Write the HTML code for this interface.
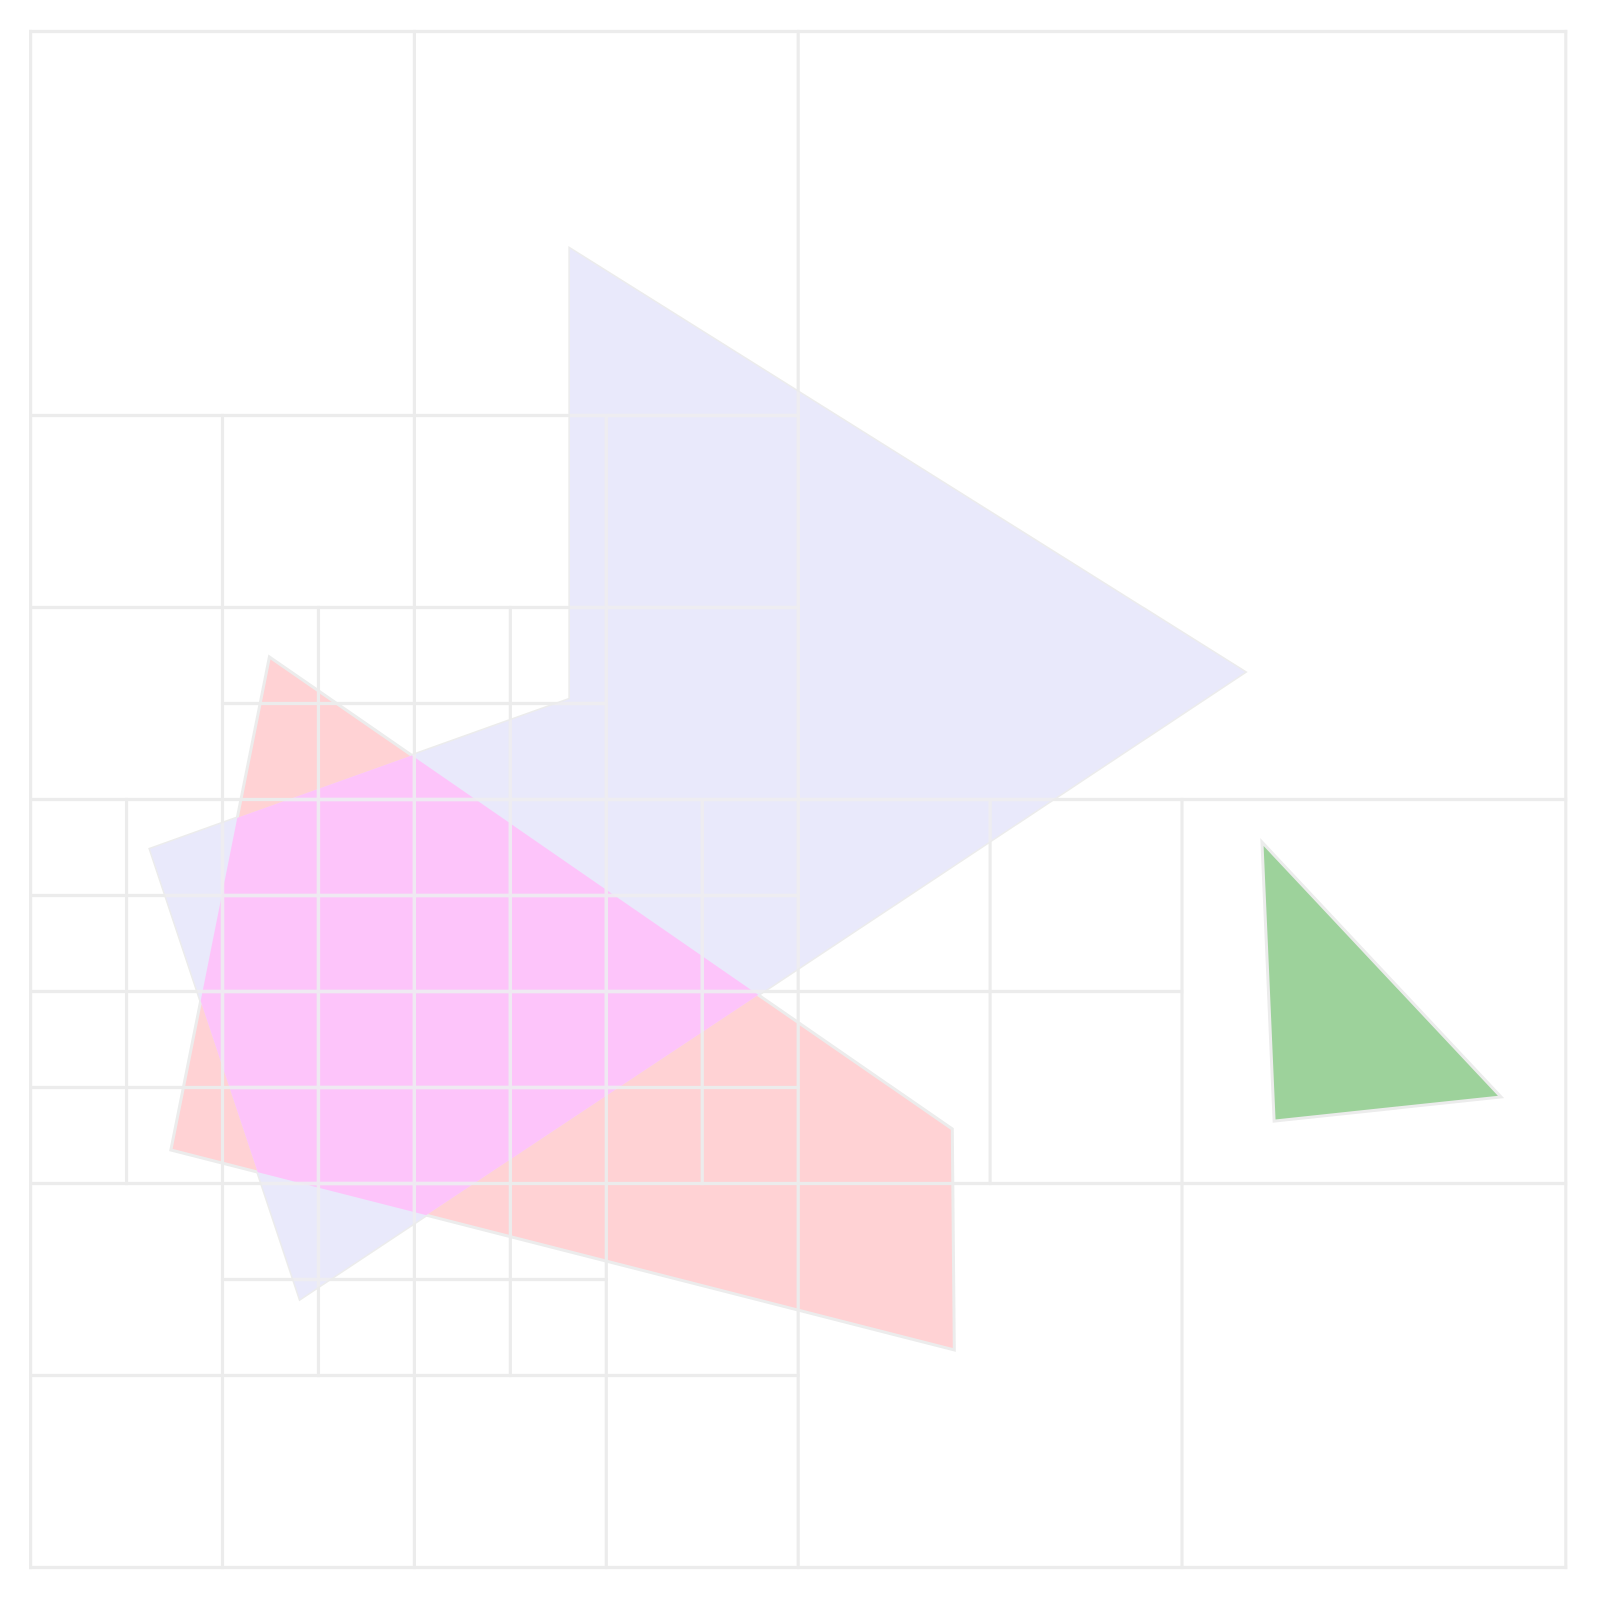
<!DOCTYPE html>
<html lang="en">
<head>
<meta charset="utf-8">
<title>Quadtree grid with overlapping polygons</title>
<style>
html,body{margin:0;padding:0;background:#fff;}
svg{display:block;}
</style>
</head>
<body>
<svg id="chart" xmlns="http://www.w3.org/2000/svg" width="1599" height="1599" viewBox="0 0 1599 1599">
<defs>
<clipPath id="pink-clip"><polygon id="pink-clip-shape"></polygon></clipPath>
<clipPath id="lilac-clip"><polygon id="lilac-clip-shape"></polygon></clipPath>
</defs>
<g id="shapes"></g>
<g id="grid" style="color:#ececec"></g>
<g id="grid-tints">
<g clip-path="url(#lilac-clip)" style="color:#eeedf1"><use href="#grid-lines"></use></g>
<g clip-path="url(#lilac-clip)"><g clip-path="url(#pink-clip)" style="color:#efe9f2"><use href="#grid-lines"></use></g></g>
</g>
</svg>
<script>
// Polygon vertices in grid units (0-16)
const pinkX = [2.489, 9.606, 9.627, 1.462];
const pinkY = [6.515, 11.432, 13.734, 11.651];
const lilacX = [5.62, 12.656, 2.807, 1.245, 5.62];
const lilacY = [2.262, 6.672, 13.203, 8.516, 6.953];
const greenX = [12.833, 15.325, 12.96];
const greenY = [8.443, 11.099, 11.35];

// Vertical grid lines: position, start, end in grid units
const vLineAt = [0, 1, 2, 3, 4, 5, 6, 7, 8, 10, 12, 16];
const vLineFrom = [0, 8, 4, 6, 0, 6, 4, 8, 0, 8, 8, 0];
const vLineTo = [16, 12, 16, 14, 16, 14, 16, 12, 16, 12, 16, 16];

// Horizontal grid lines: position, start, end in grid units
const hLineAt = [0, 4, 6, 7, 8, 9, 10, 11, 12, 13, 14, 16];
const hLineFrom = [0, 0, 0, 2, 0, 0, 0, 0, 0, 2, 0, 0];
const hLineTo = [16, 8, 8, 6, 16, 8, 12, 8, 16, 6, 8, 16];

const NS = 'http://www.w3.org/2000/svg';
const EDGE_COLOR = '#ececec';
function sx(v) { return 30.6 + v * 95.95; }
function sy(v) { return 31.5 + v * 96; }
function points(xs, ys) {
  return xs.map(function (x, i) { return sx(x).toFixed(2) + ',' + sy(ys[i]).toFixed(2); }).join(' ');
}
const shapes = document.getElementById('shapes');
const grid = document.getElementById('grid');
document.getElementById('pink-clip-shape').setAttribute('points', points(pinkX, pinkY));
document.getElementById('lilac-clip-shape').setAttribute('points', points(lilacX, lilacY));

const lilacEdge = document.createElementNS(NS, 'polygon');


lilacEdge.setAttribute('points', points(lilacX, lilacY));
lilacEdge.setAttribute('fill', 'none');
lilacEdge.setAttribute('stroke', EDGE_COLOR);
lilacEdge.setAttribute('stroke-width', '3');
shapes.appendChild(lilacEdge);

const pinkFill = document.createElementNS(NS, 'polygon');


pinkFill.setAttribute('points', points(pinkX, pinkY));
pinkFill.setAttribute('fill', '#ffd2d4');
pinkFill.setAttribute('stroke', EDGE_COLOR);
pinkFill.setAttribute('stroke-width', '3');
shapes.appendChild(pinkFill);

const lilacFill = document.createElementNS(NS, 'polygon');


lilacFill.setAttribute('points', points(lilacX, lilacY));
lilacFill.setAttribute('fill', '#e9e9fb');
shapes.appendChild(lilacFill);

const overlap = document.createElementNS(NS, 'polygon');


overlap.setAttribute('points', points(lilacX, lilacY));
overlap.setAttribute('fill', '#fdc4fa');
overlap.setAttribute('clip-path', 'url(#pink-clip)');
shapes.appendChild(overlap);

const greenFill = document.createElementNS(NS, 'polygon');


greenFill.setAttribute('points', points(greenX, greenY));
greenFill.setAttribute('fill', '#9dd29b');
greenFill.setAttribute('stroke', EDGE_COLOR);
greenFill.setAttribute('stroke-width', '3');
shapes.appendChild(greenFill);

const gridLines = document.createElementNS(NS, 'g');
gridLines.setAttribute('id', 'grid-lines');


grid.appendChild(gridLines);

vLineAt.forEach(function (at, i) {
  const line = document.createElementNS(NS, 'line');
  
  
  line.setAttribute('x1', sx(at));
  line.setAttribute('x2', sx(at));
  line.setAttribute('y1', sy(vLineFrom[i]));
  line.setAttribute('y2', sy(vLineTo[i]));
  line.setAttribute('stroke', 'currentColor');
  line.setAttribute('stroke-width', '3.2');
  line.setAttribute('stroke-linecap', 'square');
  gridLines.appendChild(line);
});

hLineAt.forEach(function (at, i) {
  const line = document.createElementNS(NS, 'line');
  
  
  line.setAttribute('y1', sy(at));
  line.setAttribute('y2', sy(at));
  line.setAttribute('x1', sx(hLineFrom[i]));
  line.setAttribute('x2', sx(hLineTo[i]));
  line.setAttribute('stroke', 'currentColor');
  line.setAttribute('stroke-width', '3.2');
  line.setAttribute('stroke-linecap', 'square');
  gridLines.appendChild(line);
});
</script>
</body>
</html>
